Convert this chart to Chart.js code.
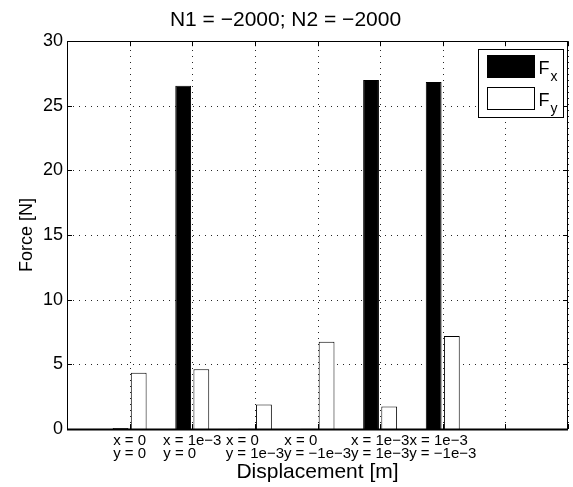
<!DOCTYPE html>
<html lang="en">

<head>
    <meta charset="UTF-8">
    <script src="https://cdn.jsdelivr.net/npm/chart.js"></script>
    <title>N1 = −2000; N2 = −2000</title>
    <style>
        body { margin: 0; background: #fff; }
        #wrap { position: relative; width: 573px; height: 487px; }
    </style>
</head>

<body>
    <div id="wrap"><canvas id="forceChart"></canvas></div>

    <script>
        // displacement cases (two-line tick labels, padded so lines line up on the left)
        const categories = [
            ['x = 0', 'y = 0'],
            ['x = 1e−3', 'y = 0      '],
            ['x = 0      ', 'y = 1e−3'],
            ['x = 0        ', 'y = −1e−3'],
            ['x = 1e−3', 'y = 1e−3'],
            ['x = 1e−3  ', 'y = −1e−3']
        ];
        const seriesNames = ['Fx', 'Fy'];
        const fx = [0.08, 26.55, 0.02, 0.02, 27.0, 26.85];
        const fy = [4.35, 4.62, 1.9, 6.75, 1.75, 7.2];
        const yTicks = [0, 5, 10, 15, 20, 25, 30];

        const FONT = "'Liberation Sans', Arial, Helvetica, sans-serif";

        // x axis runs 0..8 like the original, bars sit on 1..6
        const labels = [''].concat(categories, ['', '']);
        const pad = arr => [null].concat(arr, [null, null]);

        // dotted grid drawn under the bars
        const dottedGrid = {
            id: 'dottedGrid',
            beforeDatasetsDraw(chart) {
                const { ctx, chartArea: a, scales } = chart;
                ctx.save();
                ctx.strokeStyle = 'rgba(0,0,0,0.85)';
                ctx.lineWidth = 1;
                ctx.setLineDash([1, 5]);
                ctx.beginPath();
                scales.x.ticks.forEach((t, i) => {
                    const px = Math.round(scales.x.getPixelForTick(i)) + 0.5;
                    ctx.moveTo(px, a.bottom); ctx.lineTo(px, a.top);
                });
                yTicks.forEach(v => {
                    const py = Math.round(scales.y.getPixelForValue(v)) + 0.5;
                    ctx.moveTo(a.left, py); ctx.lineTo(a.right, py);
                });
                ctx.stroke();
                ctx.restore();
            }
        };

        // box, inward tick marks and the in-axes legend
        const matlabFrame = {
            id: 'matlabFrame',
            afterDatasetsDraw(chart) {
                const { ctx, chartArea: a, scales } = chart;
                ctx.save();
                ctx.strokeStyle = '#000';
                ctx.lineWidth = 1;
                ctx.beginPath();
                scales.x.ticks.forEach((t, i) => {
                    const px = Math.round(scales.x.getPixelForTick(i)) + 0.5;
                    ctx.moveTo(px, a.bottom); ctx.lineTo(px, a.bottom - 5);
                    ctx.moveTo(px, a.top); ctx.lineTo(px, a.top + 5);
                });
                yTicks.forEach(v => {
                    const py = Math.round(scales.y.getPixelForValue(v)) + 0.5;
                    ctx.moveTo(a.left, py); ctx.lineTo(a.left + 5, py);
                    ctx.moveTo(a.right, py); ctx.lineTo(a.right - 5, py);
                });
                ctx.stroke();
                ctx.strokeRect(Math.round(a.left) + 0.5, Math.round(a.top) + 0.5,
                    Math.round(a.right - a.left) - 1, Math.round(a.bottom - a.top));
                ctx.lineWidth = 2;
                ctx.beginPath();
                ctx.moveTo(a.left, Math.round(a.bottom) + 0.5);
                ctx.lineTo(a.right, Math.round(a.bottom) + 0.5);
                ctx.stroke();

                // legend
                const bx = Math.round(a.right) - 89.5, by = Math.round(a.top) + 8.5;
                ctx.lineWidth = 1;
                ctx.fillStyle = '#fff';
                ctx.fillRect(bx, by, 85, 68);
                ctx.strokeRect(bx, by, 85, 68);
                chart.data.datasets.forEach((ds, i) => {
                    const ry = by + 6 + i * 32;
                    ctx.fillStyle = ds.backgroundColor;
                    ctx.fillRect(bx + 9, ry, 47, 22);
                    ctx.strokeStyle = '#000';
                    ctx.strokeRect(bx + 9, ry, 47, 22);
                    ctx.fillStyle = '#000';
                    ctx.textBaseline = 'alphabetic';
                    ctx.textAlign = 'left';
                    ctx.font = '18px ' + FONT;
                    ctx.fillText(ds.label[0], bx + 60, ry + 18);
                    const w = ctx.measureText(ds.label[0]).width;
                    ctx.font = '14px ' + FONT;
                    ctx.fillText(ds.label.slice(1), bx + 61 + w, ry + 25);
                });
                ctx.restore();
            }
        };

        new Chart(document.getElementById('forceChart'), {
            type: 'bar',
            data: {
                labels: labels,
                datasets: [{
                    label: seriesNames[0],
                    data: pad(fx),
                    backgroundColor: '#000',
                    borderColor: '#000',
                    borderWidth: 1
                }, {
                    label: seriesNames[1],
                    data: pad(fy),
                    backgroundColor: '#fff',
                    borderColor: '#000',
                    borderWidth: 1
                }]
            },
            options: {
                responsive: true,
                maintainAspectRatio: false,
                animation: false,
                categoryPercentage: 0.58,
                barPercentage: 0.87,
                layout: { padding: { top: 0, right: 2, bottom: 0, left: 0 } },
                plugins: {
                    legend: { display: false },
                    tooltip: { enabled: false },
                    title: {
                        display: true,
                        text: 'N1 = −2000; N2 = −2000',
                        color: '#000',
                        font: { family: FONT, size: 21, weight: 'normal' },
                        padding: { top: 8, bottom: 8 }
                    }
                },
                scales: {
                    x: {
                        offset: false,
                        afterFit(scale) { scale.height = 58; },
                        grid: { display: false, offset: false, drawTicks: false },
                        border: { display: false },
                        ticks: {
                            autoSkip: false,
                            maxRotation: 0,
                            padding: 5,
                            color: '#000',
                            font: { family: FONT, size: 15, lineHeight: 0.87 }
                        },
                        title: {
                            display: true,
                            text: 'Displacement [m]',
                            color: '#000',
                            font: { family: FONT, size: 21 },
                            padding: { top: 0, bottom: 2 }
                        }
                    },
                    y: {
                        min: 0,
                        max: 30,
                        afterFit(scale) { scale.width = 67; },
                        afterBuildTicks(scale) { scale.ticks = yTicks.map(v => ({ value: v })); },
                        grid: { display: false, drawTicks: false },
                        border: { display: false },
                        ticks: {
                            padding: 4,
                            color: '#000',
                            font: { family: FONT, size: 18 }
                        },
                        title: {
                            display: true,
                            text: 'Force [N]',
                            color: '#000',
                            font: { family: FONT, size: 18 },
                            padding: { top: 16, bottom: 0 }
                        }
                    }
                }
            },
            plugins: [dottedGrid, matlabFrame]
        });
    </script>
</body>

</html>
